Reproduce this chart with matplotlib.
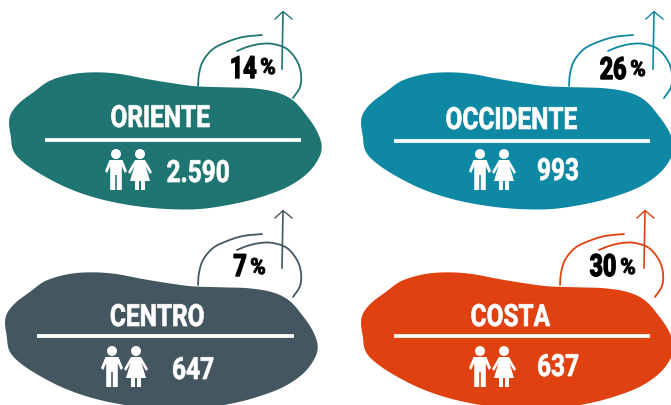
import numpy as np
import matplotlib
matplotlib.use('Agg')
import matplotlib.pyplot as plt
from matplotlib.patches import Polygon, Circle
from matplotlib.patheffects import AbstractPathEffect
from matplotlib.transforms import Affine2D

# --- Data ---
regions = ['ORIENTE', 'OCCIDENTE', 'CENTRO', 'COSTA']
people = ['2.590', '993', '647', '637']
growth = ['14', '26', '7', '30']

# --- Style ---
colors = ['#1F7571', '#0E88A3', '#445760', '#E04111']
plt.rcParams['font.family'] = ['Roboto', 'DejaVu Sans']

# --- Layout, in pixels of the picture ---
blob_shift = [(0, 0), (352, 0), (-4, 200), (352, 200)]
arc_shift = [(0, 0), (371, 0), (0, 199), (362, 199)]
rule_y = [141, 142, 336.5, 336.5]
rule_x = [(45, 301), (394, 650), (37, 294), (394, 650)]
title_pos = [(160, 128), (511, 130), (157, 327), (510, 327)]
count_pos = [(198, 183), (558, 181), (193, 380), (558, 377)]
icon_pos = [(116, 150), (480, 150), (112, 347), (480, 347)]
num_pos = [(243, 79), (613, 80), (240, 277), (603, 277)]
sign_pos = [(268, 75), (638, 77), (258, 275), (628, 275)]

blob_pts = np.array([(27, 370), (35, 340), (60, 310), (100, 280), (150, 245), (220, 225), (290, 220),
                     (360, 225), (440, 240), (520, 253), (590, 262), (680, 265), (760, 268), (830, 280),
                     (880, 305), (920, 350), (950, 395), (965, 440), (955, 480), (920, 525), (860, 565),
                     (780, 595), (700, 615), (600, 630), (500, 630), (400, 620), (300, 600), (210, 570),
                     (130, 530), (70, 490), (40, 455), (32, 410)], float) / 3
arc_outer = np.array([(262, 36), (243, 38), (227, 43), (213, 50), (203, 62), (199, 75), (198, 87)], float)
arc_inner = np.array([(237, 52), (247, 48), (260, 45), (273, 45), (287, 50), (297, 62), (301, 75), (300, 88), (293, 99)], float)
shaft = np.array([(282, 70), (283, 13)], float)
head = np.array([(275, 20), (283, 12.5), (292, 20)], float)

man = [(-6.5, 11), (6.5, 11), (11, 22), (8.8, 24), (5.8, 17), (5.8, 41), (0.8, 41), (0.8, 26), (-0.8, 26),
       (-0.8, 41), (-5.8, 41), (-5.8, 17), (-8.8, 24), (-11, 22)]
woman = [(-5, 11), (5, 11), (12, 23), (10, 25), (5.5, 17), (10, 32), (5, 32), (5, 41), (1, 41), (1, 32),
         (-1, 32), (-1, 41), (-5, 41), (-5, 32), (-10, 32), (-5.5, 17), (-10, 25), (-12, 23)]


class Squeeze(AbstractPathEffect):
    # narrows glyphs around their own centre, no condensed font is installed
    def __init__(self, sx, stroke=0):
        super().__init__()
        self.sx = sx
        self.stroke = stroke

    def draw_path(self, renderer, gc, tpath, affine, rgbFace=None):
        m = affine.get_matrix().copy()
        box = tpath.get_extents()
        m[0, 2] += (1 - self.sx) * m[0, 0] * (box.x0 + box.x1) / 2
        m[0, 0] *= self.sx
        gc2 = renderer.new_gc()
        gc2.copy_properties(gc)
        if self.stroke:
            gc2.set_linewidth(self.stroke)
            gc2.set_foreground(rgbFace)
        renderer.draw_path(gc2, tpath, Affine2D(m), rgbFace)
        gc2.restore()


def smooth(pts, closed=False, n=12):
    # Catmull-Rom through the outline points
    pts = np.asarray(pts, float)
    if closed:
        p = np.vstack([pts[-1], pts, pts[0], pts[1]])
    else:
        p = np.vstack([2 * pts[0] - pts[1], pts, 2 * pts[-1] - pts[-2]])
    out = []
    t = np.linspace(0, 1, n, endpoint=False)[:, None]
    for i in range(1, len(p) - 2):
        a, b, c, d = p[i - 1], p[i], p[i + 1], p[i + 2]
        out.append(0.5 * (2 * b + (c - a) * t + (2 * a - 5 * b + 4 * c - d) * t ** 2 + (3 * b - a - 3 * c + d) * t ** 3))
    out.append(p[-2:-1])
    return np.vstack(out)


fig = plt.figure(figsize=(6.71, 4.06), dpi=100)
ax = fig.add_axes([0, 0, 1, 1])
ax.set_xlim(0, 671)
ax.set_ylim(406, 0)
ax.axis('off')

for i, region in enumerate(regions):
    c = colors[i]
    # arcs and arrow go behind the blob
    for pts in [arc_outer, arc_inner]:
        xy = smooth(pts) + arc_shift[i]
        ax.plot(xy[:, 0], xy[:, 1], color=c, lw=1.3, solid_capstyle='round', zorder=1)
    ax.plot(*(shaft + arc_shift[i]).T, color=c, lw=1.2, zorder=1)
    ax.plot(*(head + arc_shift[i]).T, color=c, lw=1.0, zorder=1)

    ax.add_patch(Polygon(smooth(blob_pts, closed=True) + blob_shift[i], closed=True, fc=c, ec='none', zorder=2))

    ax.plot(rule_x[i], [rule_y[i]] * 2, color='white', lw=2.7, solid_capstyle='butt', zorder=3)
    for pos, s in [(title_pos[i], region), (count_pos[i], people[i])]:
        ax.text(*pos, s, color='white', weight='bold', fontsize=22, ha='center', va='baseline', zorder=4,
                path_effects=[Squeeze(0.8, stroke=0.5)])

    # little people
    ix, iy = icon_pos[i]
    ax.add_patch(Circle((ix, iy + 5), 5, fc='white', ec='none', zorder=4))
    ax.add_patch(Polygon(np.array(man) + (ix, iy), closed=True, fc='white', ec='none', zorder=4))
    ax.add_patch(Circle((ix + 24, iy + 5), 5, fc='white', ec='none', zorder=4))
    ax.add_patch(Polygon(np.array(woman) + (ix + 24, iy), closed=True, fc='white', ec='none', zorder=4))

    # percent, the sign is smaller than the number
    ax.text(*num_pos[i], growth[i], color='black', weight='bold', fontsize=22, ha='center', va='baseline',
            zorder=4, path_effects=[Squeeze(0.76, stroke=1.0)])
    ax.text(*sign_pos[i], '%', color='black', weight='bold', fontsize=16, ha='center', va='baseline',
            zorder=4, path_effects=[Squeeze(0.95, stroke=0.7)])

plt.savefig('out.png', dpi=100)
plt.close()
